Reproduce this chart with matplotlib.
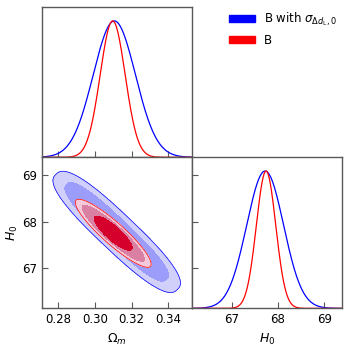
import numpy as np
import matplotlib
matplotlib.use('Agg')
import matplotlib.pyplot as plt
from matplotlib.patches import Patch

# Подписи наборов данных
labels = [r'B with $\sigma_{\Delta d_{\rm L},0}$', 'B']
line_colors = ['blue', 'red']

# Одномерные распределения (среднее, сигма)
om_mean = [0.3106, 0.3097]
om_sigma = [0.0115, 0.0068]
h0_mean = [67.72, 67.74]
h0_sigma = [0.40, 0.21]

# Двумерные контуры: центр, масштаб и полуоси уровней (в единицах масштаба)
om_center_2d = [0.3119, 0.3100]
h0_center_2d = [67.78, 67.75]
om_scale_2d = [0.0115, 0.0068]
h0_scale_2d = [0.43, 0.24]
shape_power = [2.6, 2.0]
contour_major = [[3.35, 4.07], [2.07, 3.46, 4.20]]
contour_minor = [[0.61, 0.89], [0.59, 0.72, 0.93]]
fill_colors = [['#9c9cfb', '#d0d0fb'], ['#d5002b', '#da80a3', '#f4cadb']]

om_ticks = [0.28, 0.30, 0.32, 0.34]
h0_ticks = [67, 68, 69]
om_lim = (0.2713, 0.3528)
h0_lim = (66.14, 69.38)
pdf_top = 1.1

fig = plt.figure(figsize=(3.49, 3.50), dpi=100)
ax_om = fig.add_axes([0.1212, 0.5506, 0.428, 0.4286])
ax_2d = fig.add_axes([0.1212, 0.119, 0.428, 0.4316])
ax_h0 = fig.add_axes([0.5510, 0.119, 0.428, 0.4316])

for ax in (ax_om, ax_2d, ax_h0):
    for s in ax.spines.values():
        s.set_color('0.35')
        s.set_linewidth(1.0)
    ax.tick_params(direction='in', length=4, width=0.8, color='0.35',
                   labelsize=8.5, top=False, right=False)

# Ω_m (вверху)
x = np.linspace(*om_lim, 400)
for m, s, c in zip(om_mean, om_sigma, line_colors):
    ax_om.plot(x, np.exp(-0.5 * ((x - m) / s) ** 2), color=c, lw=0.9)
ax_om.set_xlim(om_lim)
ax_om.set_ylim(0, pdf_top)
ax_om.set_xticks(om_ticks)
ax_om.set_xticklabels([])
ax_om.set_yticks([])

# H0 (справа)
h = np.linspace(*h0_lim, 400)
for m, s, c in zip(h0_mean, h0_sigma, line_colors):
    ax_h0.plot(h, np.exp(-0.5 * ((h - m) / s) ** 2), color=c, lw=0.9)
ax_h0.set_xlim(h0_lim)
ax_h0.set_ylim(0, pdf_top)
ax_h0.set_xticks(h0_ticks)
ax_h0.set_yticks([(t - h0_lim[0]) / (h0_lim[1] - h0_lim[0]) * pdf_top for t in h0_ticks])
ax_h0.set_yticklabels([])
ax_h0.set_xlabel(r'$H_0$', fontsize=9)

# Контуры: каждый уровень рисуется отдельно, от внешнего к внутреннему
X, Y = np.meshgrid(np.linspace(*om_lim, 600), np.linspace(*h0_lim, 600))
for i in range(2):
    dx = (X - om_center_2d[i]) / om_scale_2d[i]
    dy = (Y - h0_center_2d[i]) / h0_scale_2d[i]
    u = np.abs(dx - dy) / np.sqrt(2)
    v = np.abs(dx + dy) / np.sqrt(2)
    p = shape_power[i]
    n = len(contour_major[i])
    for k in reversed(range(n)):
        dist = (u / contour_major[i][k]) ** p + (v / contour_minor[i][k]) ** p
        ax_2d.contourf(X, Y, dist, levels=[0, 1], colors=[fill_colors[i][k]])
        if k == n - 1:
            ax_2d.contour(X, Y, dist, levels=[1], colors=line_colors[i], linewidths=0.5)
ax_2d.set_xlim(om_lim)
ax_2d.set_ylim(h0_lim)
ax_2d.set_xticks(om_ticks)
ax_2d.set_xticklabels(['%.2f' % t for t in om_ticks])
ax_2d.set_yticks(h0_ticks)
ax_2d.set_xlabel(r'$\Omega_m$', fontsize=9)
ax_2d.set_ylabel(r'$H_0$', fontsize=9, labelpad=2)

# Легенда
handles = [Patch(facecolor=c, edgecolor=c) for c in line_colors]
fig.legend(handles, labels, loc='upper left', bbox_to_anchor=(0.625, 1.0),
           frameon=False, fontsize=8.5, handlelength=2.2, handleheight=0.6,
           labelspacing=0.45)

fig.savefig('out.png', dpi=100)
